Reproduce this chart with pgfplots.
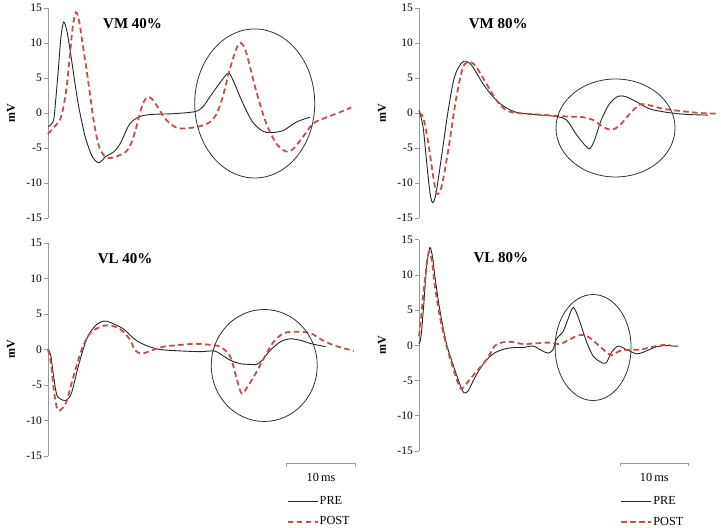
\documentclass[border=0pt]{standalone}
\usepackage{pgfplots}
\pgfplotsset{compat=1.18}
\usepackage{fontspec}
\setmainfont{Liberation Serif}

\definecolor{postred}{HTML}{C0504D}
\definecolor{axgray}{HTML}{999999}

\pgfplotsset{
  emg/.style={
    x=6.8pt, xmin=0,
    ymin=-15, ymax=15,
    axis lines=none,
    clip=false,
    anchor=south west,
  },
  leg/.style={
    legend style={draw=none, fill=none, anchor=north west, inner sep=0pt,
      font=\fontsize{12.3}{14}\selectfont, row sep=9pt,
      nodes={inner sep=1pt}},
    legend cell align=left,
    legend image code/.code={\draw[##1] (0pt,0pt) -- (30pt,0pt);},
  },
  pre/.style={black!85, line width=0.9pt, smooth},
  post/.style={postred, line width=1.8pt, dash pattern=on 5.5pt off 3.5pt, smooth},
}
\tikzset{ring/.style={black!80, line width=0.8pt},
  title/.style={anchor=west, font=\fontsize{15}{17}\selectfont\bfseries},
  axl/.style={axgray, line width=1pt},
  tl/.style={anchor=east, xshift=-5pt, inner sep=1pt, font=\fontsize{11.5}{13}\selectfont}}

% left axis line, outward ticks, tick labels and the mV label
\newcommand\yaxisline{%
  \draw[axl] (axis cs:0,-15) -- (axis cs:0,15);
  \draw[axl] (axis cs:0,-15) -- ++(-4pt,0pt) (axis cs:0,-10) -- ++(-4pt,0pt)
    (axis cs:0,-5) -- ++(-4pt,0pt) (axis cs:0,0) -- ++(-4pt,0pt)
    (axis cs:0,5) -- ++(-4pt,0pt) (axis cs:0,10) -- ++(-4pt,0pt)
    (axis cs:0,15) -- ++(-4pt,0pt);
  \node[tl] at (axis cs:0,-15) {-15};
  \node[tl] at (axis cs:0,-10) {-10};
  \node[tl] at (axis cs:0,-5) {-5};
  \node[tl] at (axis cs:0,0) {0};
  \node[tl] at (axis cs:0,5) {5};
  \node[tl] at (axis cs:0,10) {10};
  \node[tl] at (axis cs:0,15) {15};
  \node[xshift=-37pt, rotate=90, font=\fontsize{12}{14}\selectfont\bfseries]
    at (axis cs:0,0) {mV};}

\begin{document}
\begin{tikzpicture}
\useasboundingbox (0pt,0pt) rectangle (721pt,-528pt);

% VM 40%
\begin{axis}[emg, xmax=45, y=7pt, at={(48pt,-218pt)}]
\yaxisline
\addplot[pre] coordinates {
(0,-2.0) (0.8,-1.1) (1.1,1.5) (1.5,6.0) (1.9,10.8) (2.3,13.0) (2.8,11.6) (3.4,8.0)
(4.0,4.0) (4.6,0.5) (5.5,-3.5) (6.5,-6.2) (7.5,-7.1) (8.5,-6.2) (9.6,-5.6) (10.6,-4.4)
(12.0,-1.6) (13.5,-0.5) (15.4,-0.2) (18.4,-0.1) (21.6,0.2) (22.8,0.9) (23.8,2.3)
(25.2,4.2) (26.5,5.7) (27.2,4.7) (28.7,1.3) (30.1,-1.3) (31.6,-2.6) (32.8,-2.8)
(34.6,-2.5) (36.5,-1.3) (38.5,-0.6)};
\addplot[post] coordinates {
(0,-3.0) (1.0,-1.9) (1.8,-0.9) (2.3,1.0) (2.75,3.8) (3.2,8.0) (3.6,12.0) (4.1,14.4)
(4.6,13.0) (5.1,9.8) (5.7,6.0) (6.2,2.5) (6.7,-1.0) (7.2,-3.6) (7.7,-5.3) (8.5,-6.3)
(9.5,-6.4) (10.6,-6.0) (11.5,-5.5) (12.3,-4.2) (13.0,-2.0) (13.6,0.3) (14.2,1.8)
(14.7,2.3) (15.3,2.0) (15.9,1.2) (17.4,-1.0) (18.9,-2.1) (20.3,-2.2) (22.3,-1.9)
(23.8,-1.3) (24.8,-0.1) (25.7,2.3) (26.7,6.1) (27.7,9.2) (28.4,10.0) (29.2,8.5)
(30.6,3.2) (32.1,-1.5) (33.6,-4.4) (35.0,-5.5) (36.0,-5.2) (37.5,-3.4) (39.0,-1.5)
(41.0,-0.6) (42.9,0.1) (44.6,0.8)};
\draw[ring] (axis cs:30.4,1.36) ellipse [x radius=60pt, y radius=74.5pt];
\node[title] at (axis cs:7.6,12.7) {VM 40\%};
\end{axis}

% VM 80%
\begin{axis}[emg, xmax=44, y=7pt, at={(419pt,-218pt)}]
\yaxisline
\addplot[pre] coordinates {
(0,0.4) (0.6,-2.0) (1.1,-6.8) (1.6,-11.3) (2.0,-12.8) (2.5,-11.5) (3.3,-6.3) (4.3,0.4)
(5.2,5.1) (6.2,7.1) (7.0,7.4) (7.9,6.6) (9.4,4.2) (10.9,2.3) (12.4,1.0) (14.3,0.1)
(16.8,-0.2) (20.2,-0.5) (21.7,-1.0) (23.1,-3.0) (24.4,-4.6) (25.1,-5.1) (25.8,-3.9)
(26.8,-1.0) (28.0,1.3) (29.3,2.4) (30.5,2.3) (32.0,1.6) (33.9,0.6) (36.4,0.1)
(39.3,-0.2) (42.5,-0.3)};
\addplot[post] coordinates {
(0,0) (0.6,-0.6) (1.3,-3.9) (2.1,-9.1) (2.6,-11.5) (3.3,-10.6) (4.3,-5.3) (5.5,2.3)
(6.5,6.6) (7.5,7.3) (8.4,6.6) (9.9,4.2) (11.4,1.8) (12.8,0.4) (14.3,0) (15.8,-0.1)
(18.7,-0.3) (21.7,-0.5) (24.1,-0.6) (25.6,-1.0) (27.1,-2.0) (28.3,-2.4) (29.5,-1.8)
(31.0,-0.1) (32.5,1.2) (33.9,1.1) (35.9,0.6) (38.3,0.3) (41.3,0) (44.0,-0.1)};
\draw[ring] (axis cs:28.9,-2.14) ellipse [x radius=59.5pt, y radius=49pt];
\node[title] at (axis cs:6.8,12.7) {VM 80\%};
\end{axis}

% VL 40%
\begin{axis}[emg, leg, xmax=45, y=7.1pt, at={(48pt,-456pt)},
  legend style={at={(axis cs:35.1,-20.5)}}]
\yaxisline
\addplot[pre] coordinates {
(0,0) (0.4,-0.8) (0.8,-3.6) (1.3,-6.4) (2.1,-7.1) (2.8,-7.1) (3.5,-6.0) (4.5,-2.2)
(5.7,1.5) (7.0,3.4) (8.2,4.0) (9.2,3.8) (11.1,2.9) (12.1,2.0) (13.1,1.2) (14.6,0.5)
(16.5,0) (19.5,-0.2) (22.4,-0.3) (24.4,-0.2) (25.3,-0.6) (26.8,-1.5) (28.3,-2.0)
(29.8,-2.1) (30.7,-2.1) (31.5,-1.5) (32.7,-0.1) (34.2,1.1) (35.6,1.5) (37.1,1.3)
(38.8,0.8) (40.8,0.4)};
\addplot[post] coordinates {
(0,0) (0.4,-1.7) (0.9,-6.0) (1.4,-8.5) (2.1,-8.3) (2.8,-7.1) (3.8,-3.6) (5.0,0.1)
(6.2,2.3) (7.7,3.2) (8.7,3.4) (9.9,3.2) (11.1,2.5) (12.1,1.3) (12.8,-0.1) (13.8,-0.6)
(15.0,-0.2) (17.0,0.4) (19.0,0.6) (21.4,0.8) (23.4,0.7) (25.3,0.4) (26.8,-1.0)
(27.8,-4.3) (28.5,-6.2) (29.5,-5.0) (30.7,-3.1) (32.0,-0.8) (33.2,1.1) (34.7,2.3)
(36.6,2.5) (38.6,2.3) (40.0,1.5) (41.5,0.8) (43.0,0.3) (45.0,-0.2)};
\legend{PRE, POST}
\draw[ring] (axis cs:31.8,-2.25) ellipse [x radius=53pt, y radius=56pt];
\node[title] at (axis cs:6.8,12.8) {VL 40\%};
\draw[axl] (axis cs:35.1,-16.5) -- (axis cs:35.1,-16.1)
  -- (axis cs:45.2,-16.1) -- (axis cs:45.2,-16.5);
\node[font=\fontsize{12.3}{14}\selectfont] at (axis cs:40.15,-18.0) {10\,ms};
\end{axis}

% VL 80%
\begin{axis}[emg, leg, xmax=44, y=7.04pt, at={(419pt,-451pt)},
  legend style={at={(axis cs:29.6,-21.3)}}]
\yaxisline
\addplot[pre] coordinates {
(0,0.2) (0.3,1.3) (0.7,5.8) (1.1,11.0) (1.6,13.9) (2.0,12.5) (2.3,10.1) (3.0,5.4)
(4.0,0.4) (5.0,-2.7) (6.0,-5.5) (6.6,-6.7) (7.2,-6.5) (8.2,-4.6) (9.4,-2.7)
(10.9,-1.2) (12.6,-0.5) (14.1,-0.3) (15.3,-0.3) (16.8,-0.1) (18.0,-0.7) (19.0,-1.1)
(19.7,-0.6) (20.2,0.9) (21.2,2.0) (21.9,3.7) (22.7,5.4) (23.6,3.5) (24.6,0.6)
(25.6,-1.5) (26.6,-2.3) (27.5,-2.5) (28.3,-1.0) (29.3,-0.1) (30.5,-0.6) (31.2,-0.9)
(32.0,-1.2) (32.9,-1.0) (33.9,-0.6) (34.9,-0.2) (36.4,0.0) (37.4,-0.1) (38.1,-0.1)};
\addplot[post] coordinates {
(0,1.3) (0.3,3.9) (0.8,8.7) (1.4,13.2) (1.9,12.0) (2.3,8.7) (3.0,4.4) (4.0,0.1)
(5.0,-3.2) (6.0,-6.0) (6.5,-6.0) (7.5,-4.8) (8.9,-3.2) (10.1,-1.8) (11.1,-0.1)
(12.1,0.4) (13.6,0.5) (15.3,0.2) (17.3,0.3) (19.2,0.4) (20.7,0.2) (21.9,0.7) (23.1,1.3)
(24.1,1.5) (25.1,1.1) (26.3,0.1) (27.5,-0.9) (28.3,-1.4) (29.5,-0.8) (31.0,-0.6)
(32.5,-0.6) (33.9,-0.3) (35.4,0) (36.9,0.1)};
\legend{PRE, POST}
\draw[ring] (axis cs:25.6,-0.3) ellipse [x radius=38pt, y radius=53pt];
\node[title] at (axis cs:7.5,12.4) {VL 80\%};
\draw[axl] (axis cs:29.6,-17.2) -- (axis cs:29.6,-16.8)
  -- (axis cs:39.6,-16.8) -- (axis cs:39.6,-17.2);
\node[font=\fontsize{12.3}{14}\selectfont] at (axis cs:34.6,-18.7) {10\,ms};
\end{axis}
\end{tikzpicture}
\end{document}
